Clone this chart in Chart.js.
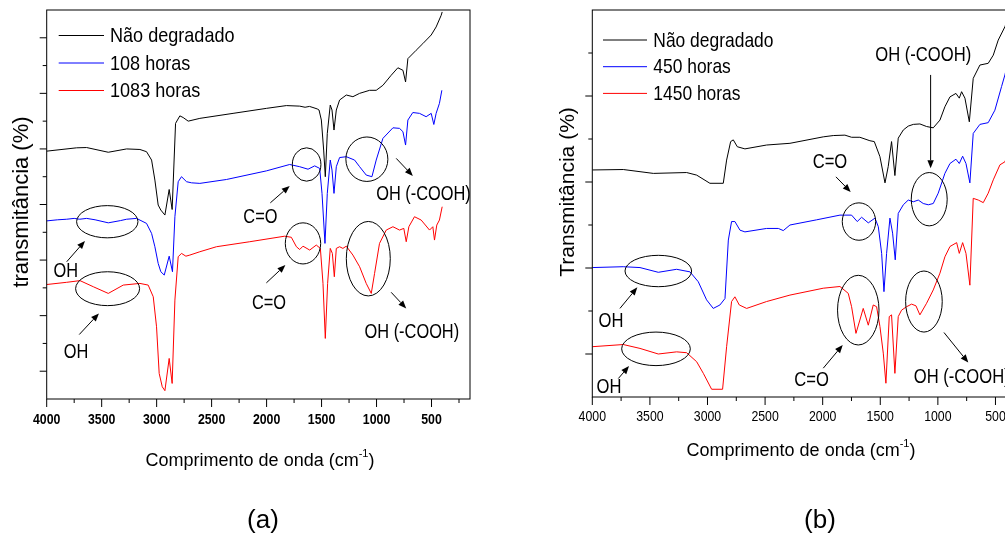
<!DOCTYPE html>
<html>
<head>
<meta charset="utf-8">
<script src="https://cdn.jsdelivr.net/npm/chart.js@4.4.0/dist/chart.umd.min.js"></script>
<style>
html, body { margin: 0; padding: 0; background: #fff; overflow: hidden; width: 1005px; height: 535px; }
#wrapA { position: absolute; left: 0; top: 0; width: 500px; height: 535px; }
#wrapB { position: absolute; left: 545px; top: 0; width: 480px; height: 535px; }
</style>
</head>
<body>
<div id="wrapA"><canvas id="chartA" width="500" height="535"></canvas></div>
<div id="wrapB"><canvas id="chartB" width="480" height="535"></canvas></div>
<script>
// ---- panel (a) ----
var xTicksA = [4000, 3500, 3000, 2500, 2000, 1500, 1000, 500];
var labelsA = ['Não degradado', '108 horas', '1083 horas'];

var wnBlackA = [4000,3728,3637,3440,3273,3152,3092,3046,3016,2986,2962,2925,2886,2859,2828,2789,2759,2713,2607,2305,2002,1820,1699,1650,1610,1578,1540,1523,1502,1481,1466,1448,1421,1405,1387,1366,1336,1275,1215,1154,1063,1003,942,867,806,760,736,715,640,579,503,458,412,403];
var valBlackA = [8.92,9.04,9.05,8.88,9.0,8.98,8.9,8.6,7.88,6.98,6.8,6.62,7.54,6.82,9.92,10.19,10.13,10.0,10.1,10.28,10.46,10.56,10.54,10.5,10.53,10.49,10.44,10.4,10.04,8.96,8.0,9.56,10.58,10.4,9.68,10.4,10.76,10.94,10.88,11.0,11.11,11.11,11.29,11.65,11.92,11.83,11.41,12.25,12.55,12.79,13.1,13.39,13.81,13.93];

var wnBlueA = [4000,3900,3818,3750,3700,3637,3560,3440,3330,3273,3183,3092,3046,3016,2986,2962,2931,2886,2856,2834,2804,2774,2728,2683,2607,2365,2002,1790,1699,1623,1563,1517,1496,1469,1448,1421,1405,1387,1366,1336,1275,1200,1154,1094,1042,1003,942,851,791,760,736,715,670,609,549,503,479,458,428,406];
var valBlueA = [6.41,6.45,6.47,6.5,6.47,6.5,6.45,6.34,6.42,6.47,6.5,6.32,5.96,5.48,4.88,4.58,4.46,5.14,4.58,6.56,7.82,8.0,7.82,7.78,7.76,7.9,8.21,8.44,8.36,8.27,8.39,8.3,7.4,5.6,7.4,8.6,8.24,7.4,8.36,8.69,8.72,8.6,8.36,8.06,8.0,8.6,9.38,9.76,9.74,9.62,9.14,10.04,10.31,10.28,10.16,10.28,9.88,10.28,10.64,11.11];

var wnRedA = [4000,3818,3697,3576,3440,3304,3152,3077,3031,3001,2977,2949,2925,2886,2859,2834,2804,2774,2734,2698,2607,2456,2153,1835,1775,1729,1699,1669,1608,1548,1511,1487,1466,1445,1421,1402,1384,1366,1336,1306,1275,1215,1154,1094,1048,1018,973,912,851,791,752,730,706,655,594,518,488,473,452,428,403];
var valRedA = [4.12,4.2,4.26,4.04,3.8,4.1,4.16,4.1,3.68,2.6,0.92,0.44,0.3,1.46,0.56,3.56,5.12,5.24,5.14,5.18,5.3,5.48,5.66,5.86,5.82,5.48,5.38,5.5,5.36,5.54,5.42,4.16,2.18,4.16,5.42,5.24,4.4,5.42,5.48,5.42,5.5,5.18,4.76,4.16,3.8,4.52,5.6,6.08,6.2,6.08,6.14,5.66,6.2,6.56,6.44,6.08,6.2,5.72,6.26,6.44,6.92];

// ---- panel (b) ----
var xTicksB = [4000, 3500, 3000, 2500, 2000, 1500, 1000, 500];
var labelsB = ['Não degradado', '450 horas', '1450 horas'];

var wnBlackB = [4000,3731,3470,3181,3094,2979,2863,2834,2799,2776,2741,2675,2487,2284,1995,1908,1807,1749,1677,1590,1552,1503,1459,1431,1402,1373,1344,1300,1257,1213,1156,1098,1040,982,939,895,843,814,794,765,727,693,635,563,519,476,418,400];
var valBlackB = [5.28,5.29,5.2,5.22,5.16,4.97,4.97,5.51,5.94,5.98,5.82,5.77,5.86,5.9,6.05,6.08,6.09,6.04,6.04,5.96,5.94,5.59,4.98,5.36,5.94,5.15,6.02,6.21,6.3,6.34,6.35,6.29,6.26,6.44,6.75,6.98,7.06,6.95,7.1,6.95,6.4,7.41,7.72,7.76,7.95,8.3,8.61,8.75];

var wnBlueB = [4000,3731,3586,3427,3268,3152,3080,3008,2950,2892,2848,2819,2791,2762,2718,2675,2487,2385,2342,2284,2053,1850,1749,1700,1662,1604,1546,1517,1488,1468,1445,1416,1393,1370,1344,1300,1257,1213,1170,1127,1083,1040,997,939,895,843,814,785,756,722,693,635,563,505,447,418,400];
var valBlueB = [3.01,3.03,3.01,2.9,2.97,2.91,2.68,2.26,2.06,2.14,2.29,3.65,4.08,4.08,3.88,3.84,3.92,3.92,3.87,4.0,4.12,4.23,4.23,4.08,4.18,4.05,4.16,3.96,3.34,2.45,3.34,4.16,3.81,3.19,4.27,4.47,4.58,4.54,4.58,4.5,4.47,4.5,4.74,5.2,5.43,5.53,5.43,5.6,5.43,4.98,6.13,6.34,6.38,6.67,7.22,7.49,7.7];

var wnRedB = [4000,3731,3586,3427,3268,3181,3094,3036,2964,2869,2834,2791,2762,2724,2660,2487,2284,1995,1850,1778,1749,1711,1677,1648,1604,1561,1532,1503,1474,1451,1422,1402,1373,1344,1315,1271,1228,1190,1156,1098,1040,982,939,895,837,814,785,756,722,693,649,606,563,519,461,418,400];
var valRedB = [1.17,1.22,1.13,1.0,1.05,1.03,0.82,0.55,0.18,0.18,1.17,2.22,2.33,2.14,2.06,2.22,2.37,2.53,2.57,2.41,2.1,1.48,1.79,2.06,1.67,2.14,2.1,1.64,1.02,0.32,1.87,1.91,0.55,1.87,2.02,2.1,2.16,2.12,1.91,2.18,2.49,2.88,3.26,3.5,3.59,3.34,3.59,3.34,2.6,4.62,4.58,4.52,4.74,5.05,5.4,5.47,5.6];

var FONT = "'Liberation Sans', Arial, sans-serif";

function pts(xs, ys) {
  return xs.map(function (x, i) { return { x: x, y: ys[i] }; });
}

function series(label, xs, ys, color) {
  return { label: label, data: pts(xs, ys), borderColor: color, backgroundColor: color,
           borderWidth: 1, pointRadius: 0, tension: 0, fill: false };
}

function txt(ctx, s, x, y, size, opt) {
  opt = opt || {};
  ctx.save();
  ctx.translate(x, y);
  if (opt.rot) ctx.rotate(opt.rot);
  ctx.scale(opt.sx || 1, 1);
  ctx.font = (opt.weight || 'normal') + ' ' + size + 'px ' + FONT;
  ctx.textAlign = opt.align || 'center';
  ctx.textBaseline = 'middle';
  ctx.fillStyle = '#000';
  ctx.fillText(s, 0, 0);
  ctx.restore();
}

function arrow(ctx, x1, y1, x2, y2) {
  var ang = Math.atan2(y2 - y1, x2 - x1), hl = 8, hw = 3.2;
  var bx = x2 - hl * Math.cos(ang), by = y2 - hl * Math.sin(ang);
  ctx.beginPath();
  ctx.moveTo(x1, y1); ctx.lineTo(bx, by);
  ctx.stroke();
  ctx.beginPath();
  ctx.moveTo(x2, y2);
  ctx.lineTo(bx + hw * Math.sin(ang), by - hw * Math.cos(ang));
  ctx.lineTo(bx - hw * Math.sin(ang), by + hw * Math.cos(ang));
  ctx.closePath();
  ctx.fill();
}

var figurePlugin = {
  id: 'figure',
  afterDraw: function (chart, args, o) {
    var ctx = chart.ctx, a = chart.chartArea, xs = chart.scales.x, ys = chart.scales.y;
    var X = function (v) { return xs.getPixelForValue(v); };
    var Y = function (v) { return ys.getPixelForValue(v); };
    ctx.save();
    ctx.strokeStyle = '#000'; ctx.fillStyle = '#000'; ctx.lineWidth = 1;
    ctx.strokeRect(a.left, a.top, a.right - a.left, a.bottom - a.top);

    // tick marks
    ctx.beginPath();
    o.xTicks.forEach(function (v) {
      var p = X(v);
      ctx.moveTo(p, a.bottom); ctx.lineTo(p, a.bottom + 8);
      var m = v - 250;
      if (m > xs.min) { p = X(m); ctx.moveTo(p, a.bottom); ctx.lineTo(p, a.bottom + 4); }
    });
    for (var v = 1; v < ys.max; v++) {
      var py = Y(v), len = (v % 2 === 1) ? 7 : 4;
      ctx.moveTo(a.left - len, py); ctx.lineTo(a.left, py);
    }
    ctx.stroke();

    o.xTicks.forEach(function (v) {
      txt(ctx, String(v), X(v), a.bottom + o.tickDy, 14, { weight: o.tickWeight, sx: 0.88 });
    });

    // legend inside plot
    chart.data.datasets.forEach(function (d, i) {
      var ly = a.top + o.legend.y + i * o.legend.dy;
      ctx.strokeStyle = d.borderColor;
      ctx.beginPath();
      ctx.moveTo(a.left + o.legend.x0, ly); ctx.lineTo(a.left + o.legend.x1, ly);
      ctx.stroke();
      txt(ctx, d.label, a.left + o.legend.tx, ly + 1, 21, { align: 'left', sx: o.legend.sx });
    });

    // annotations
    ctx.strokeStyle = '#000'; ctx.fillStyle = '#000'; ctx.lineWidth = 1;
    o.ellipses.forEach(function (e) {
      var cx = X(e[0]), cy = Y(e[1]);
      var rx = Math.abs(X(e[0] + e[2]) - cx), ry = Math.abs(Y(e[1] + e[3]) - cy);
      ctx.beginPath();
      ctx.ellipse(cx, cy, rx, ry, 0, 0, Math.PI * 2);
      ctx.stroke();
    });
    o.arrows.forEach(function (r) { arrow(ctx, X(r[0]), Y(r[1]), X(r[2]), Y(r[3])); });
    o.notes.forEach(function (n) { txt(ctx, n[0], X(n[1]), Y(n[2]), o.noteSize, { sx: o.noteSx }); });

    // axis titles
    var t = o.xTitle;
    ctx.font = '18px ' + FONT;
    var w1 = ctx.measureText('Comprimento de onda (cm').width;
    ctx.font = '11px ' + FONT;
    var w2 = ctx.measureText('-1').width;
    ctx.font = '18px ' + FONT;
    var w3 = ctx.measureText(')').width;
    var x0 = t.x - (w1 + w2 + w3) / 2;
    txt(ctx, 'Comprimento de onda (cm', x0, t.y, 18, { align: 'left' });
    txt(ctx, '-1', x0 + w1, t.y - 7, 11, { align: 'left' });
    txt(ctx, ')', x0 + w1 + w2, t.y, 18, { align: 'left' });

    txt(ctx, o.yTitle.text, o.yTitle.x, o.yTitle.y, o.yTitle.size, { rot: -Math.PI / 2 });
    txt(ctx, o.panel.text, o.panel.x, o.panel.y, 26);
    ctx.restore();
  }
};

function makeChart(id, datasets, xMin, yMax, pad, fig) {
  return new Chart(document.getElementById(id), {
    type: 'line',
    data: { datasets: datasets },
    options: {
      responsive: false,
      animation: false,
      events: [],
      layout: { padding: pad },
      plugins: { legend: { display: false }, tooltip: { enabled: false }, figure: fig },
      scales: {
        x: { type: 'linear', reverse: true, min: xMin, max: 4000, display: false },
        y: { type: 'linear', min: 0, max: yMax, display: false }
      }
    },
    plugins: [figurePlugin]
  });
}

makeChart('chartA', [
  series(labelsA[0], wnBlackA, valBlackA, '#000000'),
  series(labelsA[1], wnBlueA, valBlueA, '#0000ff'),
  series(labelsA[2], wnRedA, valRedA, '#ff0000')
], 150, 14, { left: 46.7, top: 10, right: 30, bottom: 136 }, {
  xTicks: xTicksA, tickDy: 21, tickWeight: 'bold',
  legend: { x0: 12, x1: 57.3, tx: 63.3, y: 25.5, dy: 27.5, sx: 0.86 },
  noteSize: 19.5, noteSx: 0.84,
  ellipses: [[3449,6.38,279,0.58],[3446,3.97,291,0.61],[1636,8.44,130,0.6],[1669,5.6,161,0.74],[1088,8.63,191,0.8],[1075,5.05,200,1.34]],
  arrows: [[3818,4.94,3652,5.69],[3704,2.32,3525,3.08],[1966,7.06,1790,7.67],[2002,4.18,1829,4.82],[821,8.66,670,8.03],[867,3.84,730,3.26]],
  notes: [['OH',3827,4.58],['OH',3734,1.68],['C=O',2056,6.54],['C=O',1978,3.44],['OH (-COOH)',573,7.36],['OH (-COOH)',679,2.38]],
  xTitle: { x: 260, y: 461 },
  yTitle: { text: 'transmitância (%)', x: 22, y: 202, size: 22 },
  panel: { text: '(a)', x: 263, y: 521 }
});

makeChart('chartB', [
  series(labelsB[0], wnBlackB, valBlackB, '#000000'),
  series(labelsB[1], wnBlueB, valBlueB, '#0000ff'),
  series(labelsB[2], wnRedB, valRedB, '#ff0000')
], 300, 9, { left: 47.3, top: 10, right: 6.5, bottom: 138 }, {
  xTicks: xTicksB, tickDy: 20, tickWeight: 'normal',
  legend: { x0: 10.7, x1: 54.7, tx: 61, y: 30, dy: 26.7, sx: 0.83 },
  noteSize: 21, noteSx: 0.79,
  ellipses: [[3427,2.93,289,0.365],[3447,1.12,298,0.39],[1685,4.08,145,0.435],[1691,2.02,180,0.81],[1075,4.6,156,0.62],[1121,2.22,159,0.71]],
  arrows: [[3760,2.06,3609,2.55],[3774,0.43,3681,0.72],[1885,5.12,1757,4.77],[1995,0.67,1826,1.21],[1063,7.49,1063,5.32],[947,1.5,736,0.8]],
  notes: [['OH',3838,1.77],['OH',3855,0.22],['C=O',1937,5.46],['C=O',2096,0.4],['OH (-COOH)',1127,7.95],['OH (-COOH)',793,0.45]],
  xTitle: { x: 256, y: 451 },
  yTitle: { text: 'Transmitância (%)', x: 23, y: 192, size: 21 },
  panel: { text: '(b)', x: 275, y: 521 }
});
</script>
</body>
</html>
